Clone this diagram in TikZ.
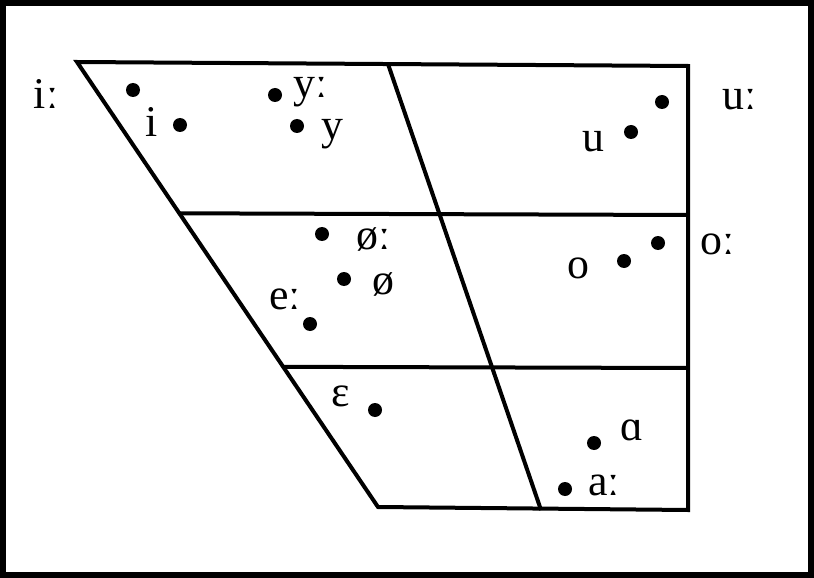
\documentclass[tikz,border=0pt]{standalone}
\usepackage{fontspec}
\setmainfont{Liberation Serif}
\usetikzlibrary{calc}
\begin{document}
\begin{tikzpicture}[x=1bp,y=-1bp,
  chart/.style={line width=4bp, line join=miter},
  vdot/.style={circle, fill=black, inner sep=0pt, minimum size=14bp},
  vlab/.style={inner sep=0pt, font=\fontsize{44}{44}\selectfont}]
\useasboundingbox (0,0) rectangle (814,578);
\draw[line width=6bp] (3,3) rectangle (811,575);
% chart corners
\coordinate (TL) at (77,62);
\coordinate (TR) at (688,66);
\coordinate (BR) at (688,510);
\coordinate (BL) at (378,507);
\coordinate (TM) at (388,64);
\coordinate (BM) at (541,510);
\coordinate (L1) at ($(TL)!0.340!(BL)$);
\coordinate (R1) at (688,215);
\coordinate (L2) at ($(TL)!0.685!(BL)$);
\coordinate (R2) at (688,368);
\draw[chart] (TL) -- (TR) -- (BR) -- (BL) -- cycle;
\draw[chart] (TM) -- (BM);
\draw[chart] (L1) -- (R1);
\draw[chart] (L2) -- (R2);
% dots
\node[vdot] (diL) at (133,90) {};
\node[vdot] (di) at (180,125) {};
\node[vdot] (dyL) at (275,95) {};
\node[vdot] (dy) at (297,126) {};
\node[vdot] (duL) at (662,102) {};
\node[vdot] (du) at (631,132) {};
\node[vdot] (doL) at (658,243) {};
\node[vdot] (do) at (624,261) {};
\node[vdot] (dphL) at (322,234) {};
\node[vdot] (dph) at (344,279) {};
\node[vdot] (deL) at (310,324) {};
\node[vdot] (deps) at (375,410) {};
\node[vdot] (dalpha) at (594,443) {};
\node[vdot] (daL) at (565,489) {};
% labels
\node[vlab] (liL) at (46,94) {iː};
\node[vlab] (li) at (152,122) {i};
\node[vlab] (lyL) at (311,92) {yː};
\node[vlab] (ly) at (332,134) {y};
\node[vlab] (luL) at (740,100) {uː};
\node[vlab] (lu) at (593,142) {u};
\node[vlab] (loL) at (718,244) {oː};
\node[vlab] (lo) at (578,268) {o};
\node[vlab] (lphL) at (374,239) {øː};
\node[vlab] (lph) at (383,284) {ø};
\node[vlab] (leL) at (285,299) {eː};
\node[vlab] (leps) at (341,396) {ɛ};
\node[vlab] (lalpha) at (632,430) {ɑ};
\node[vlab] (laL) at (604,485) {aː};
\end{tikzpicture}
\end{document}
